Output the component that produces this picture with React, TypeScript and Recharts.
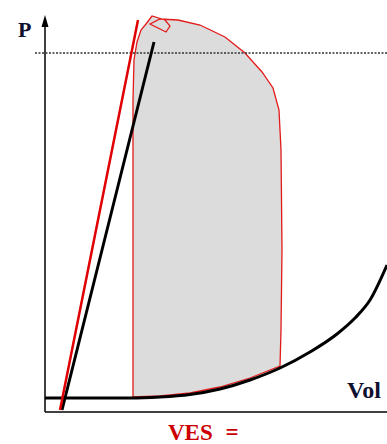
import {
  ComposedChart,
  ReferenceDot,
  ReferenceLine,
  Scatter,
  XAxis,
  YAxis,
} from "recharts";

// volume in mL, pressure in mmHg

// pressure-volume loop, read clockwise from end-diastole
const loopVolume = [
  44, 44, 44, 44.5, 46, 48, 50.5, 53.5, 60, 62.5, 60.5, 52.5, 57.5, 66.5, 77.5,
  90, 100, 108.5, 114, 117, 118, 118.5, 118, 117.5, 102.5, 87.5, 72.5, 57.5, 44,
];
const loopPressure = [
  6, 44.8, 124.8, 140.8, 148, 152.8, 155.2, 158.4, 156.8, 154.4, 152, 155.2,
  157.2, 156.8, 154.8, 150, 143.6, 136, 129.6, 120.8, 104.8, 64.8, 32.8, 18.4,
  13.6, 10, 7.6, 6.4, 6,
];

// end-diastolic pressure-volume relation
const edpvrVolume = [0, 42.5, 57.5, 72.5, 87.5, 102.5, 117.5, 132.5, 146, 155, 162.5, 171];
const edpvrPressure = [5.6, 5.6, 6, 7, 9.2, 12.8, 17.6, 24, 31.2, 37.6, 44.8, 58.8];

// end-systolic pressure-volume relations (red: shifted, black: baseline)
const espvrRedVolume = [7.5, 46.5];
const espvrRedPressure = [0.8, 156.8];
const espvrBlackVolume = [8.5, 54.5];
const espvrBlackPressure = [0.8, 148];

// dotted reference pressure
const refVolume = [-5, 171];
const refPressure = [143.6, 143.6];

const zip = (v: number[], p: number[]) => v.map((x, i) => ({ v: x, p: p[i] }));

const loop = zip(loopVolume, loopPressure);
const edpvr = zip(edpvrVolume, edpvrPressure);
const espvrRed = zip(espvrRedVolume, espvrRedPressure);
const espvrBlack = zip(espvrBlackVolume, espvrBlackPressure);
const refLine = zip(refVolume, refPressure);

const FONT = '"Liberation Serif", "Times New Roman", serif';
const noDot = () => <g />;

export default function App() {
  return (
    <div style={{ position: "absolute", left: 0, top: 0, width: 387, height: 444 }}>
      <ComposedChart
        width={387}
        height={444}
        margin={{ top: 15, right: 0, bottom: 32, left: 35 }}
      >
        <XAxis type="number" dataKey="v" domain={[-5, 171]} hide />
        <YAxis type="number" dataKey="p" domain={[0, 158.8]} hide />
        <ReferenceLine
          segment={[{ x: 0, y: 0 }, { x: 171, y: 0 }]}
          stroke="#000"
          strokeWidth={1.5}
          ifOverflow="visible"
        />
        <ReferenceLine
          segment={[{ x: 0, y: 0 }, { x: 0, y: 156 }]}
          stroke="#000"
          strokeWidth={1.5}
          ifOverflow="visible"
        />
        <ReferenceDot
          x={0}
          y={158.8}
          ifOverflow="visible"
          shape={(props: any) => (
            <path
              d={`M${props.cx},${props.cy} L${props.cx - 3.5},${props.cy + 12} L${props.cx + 3.5},${props.cy + 12} Z`}
              fill="#000"
            />
          )}
        />
        <Scatter
          data={loop}
          line={{ fill: "#dcdcdc", stroke: "#e31a1a", strokeWidth: 1.3 }}
          lineJointType="linear"
          shape={noDot}
          isAnimationActive={false}
        />
        <Scatter
          data={refLine}
          line={{ fill: "none", stroke: "#333", strokeWidth: 1.5, strokeDasharray: "2 1.5" }}
          lineJointType="linear"
          shape={noDot}
          isAnimationActive={false}
        />
        <Scatter
          data={edpvr}
          line={{ fill: "none", stroke: "#000", strokeWidth: 3 }}
          lineJointType="monotoneX"
          shape={noDot}
          isAnimationActive={false}
        />
        <Scatter
          data={espvrBlack}
          line={{ fill: "none", stroke: "#000", strokeWidth: 3 }}
          lineJointType="linear"
          shape={noDot}
          isAnimationActive={false}
        />
        <Scatter
          data={espvrRed}
          line={{ fill: "none", stroke: "#e00000", strokeWidth: 2.5 }}
          lineJointType="linear"
          shape={noDot}
          isAnimationActive={false}
        />
      </ComposedChart>
      <svg
        width={387}
        height={444}
        style={{ position: "absolute", left: 0, top: 0, pointerEvents: "none" }}
      >
        <text x={18} y={37} fontFamily={FONT} fontWeight="bold" fontSize={22} fill="#101030">
          P
        </text>
        <text x={347} y={398} fontFamily={FONT} fontWeight="bold" fontSize={24} fill="#101030">
          Vol
        </text>
        <text
          x={168}
          y={440}
          fontFamily={FONT}
          fontWeight="bold"
          fontSize={23}
          fill="#cc0000"
          style={{ wordSpacing: 7 }}
        >
          VES =
        </text>
      </svg>
    </div>
  );
}
